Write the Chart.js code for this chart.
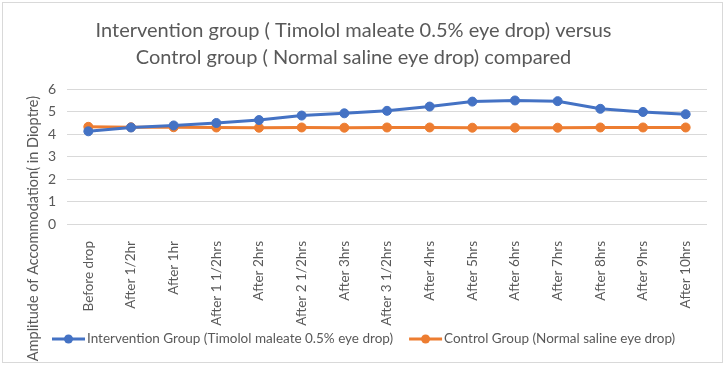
<!DOCTYPE html>
<html>
<head>
<meta charset="utf-8">
<script src="https://cdn.jsdelivr.net/npm/chart.js@4"></script>
<style>
  html, body { margin: 0; padding: 0; background: #fff; }
  #wrap { width: 726px; height: 366px; position: relative; }
</style>
</head>
<body>
<div id="wrap"><canvas id="myChart" width="726" height="366"></canvas></div>
<script>
const labels = ['Before drop', 'After 1/2hr', 'After 1hr', 'After 1 1/2hrs', 'After 2hrs', 'After 2 1/2hrs',
    'After 3hrs', 'After 3 1/2hrs', 'After 4hrs', 'After 5hrs', 'After 6hrs', 'After 7hrs', 'After 8hrs',
    'After 9hrs', 'After 10hrs'];
const intervention = [4.12, 4.29, 4.38, 4.49, 4.62, 4.82, 4.92, 5.03, 5.22, 5.44, 5.49, 5.46, 5.12, 4.98, 4.88];
const control = [4.32, 4.3, 4.3, 4.29, 4.28, 4.29, 4.28, 4.29, 4.29, 4.28, 4.28, 4.28, 4.29, 4.29, 4.29];
const yTicks = [0, 1, 2, 3, 4, 5, 6];
const titleLines = ['Intervention group ( Timolol maleate 0.5% eye drop) versus',
    'Control group ( Normal saline eye drop) compared'];
const yTitle = 'Amplitude of Accommodation( in Dioptre)';
const seriesNames = ['Intervention Group (Timolol maleate 0.5% eye drop)', 'Control Group (Normal saline eye drop)'];

const FONT = 'Lato, "Liberation Sans", sans-serif';
const GREY = '#595959';

// y title, legend and frame drawn by hand (Excel style)
const extras = {
    id: 'extras',
    afterDraw: (chart) => {
        const c = chart.ctx;
        c.save();
        c.fillStyle = GREY;
        c.font = '14.5px ' + FONT;
        c.translate(33, 96);
        c.rotate(-Math.PI / 2);
        c.textAlign = 'right';
        c.textBaseline = 'middle';
        c.fillText(yTitle, 0, 0);
        c.restore();

        c.save();
        c.font = '13.5px ' + FONT;
        c.textBaseline = 'middle';
        let x = 52;
        const y = 339;
        chart.data.datasets.forEach((ds) => {
            c.strokeStyle = ds.borderColor;
            c.lineWidth = 3;
            c.beginPath();
            c.moveTo(x, y);
            c.lineTo(x + 33, y);
            c.stroke();
            c.fillStyle = ds.borderColor;
            c.beginPath();
            c.arc(x + 16.5, y, 4.5, 0, Math.PI * 2);
            c.fill();
            c.fillStyle = GREY;
            c.fillText(ds.label, x + 35, y);
            x += 35 + c.measureText(ds.label).width + 16;
        });
        c.restore();

        // white mask outside the frame, then the frame
        c.save();
        c.fillStyle = '#fff';
        c.fillRect(0, 363, 726, 3);
        c.fillRect(0, 0, 2, 366);
        c.strokeStyle = '#d9d9d9';
        c.lineWidth = 1;
        c.strokeRect(2.5, 2.5, 720, 360);
        c.restore();
    },
};

const ctx = document.getElementById('myChart').getContext('2d');
const myChart = new Chart(ctx, {
    type: 'line',
    data: {
        labels: labels,
        datasets: [
            {
                label: seriesNames[0],
                data: intervention,
                borderColor: '#4472C4',
                backgroundColor: '#4472C4',
                borderWidth: 3,
                pointRadius: 4.5,
                pointBorderWidth: 1,
            },
            {
                label: seriesNames[1],
                data: control,
                borderColor: '#ED7D31',
                backgroundColor: '#ED7D31',
                borderWidth: 3,
                pointRadius: 4.5,
                pointBorderWidth: 1,
            },
        ],
    },
    options: {
        responsive: false,
        animation: false,
        layout: { padding: { left: 0, right: 19, top: 0, bottom: 28 } },
        plugins: {
            legend: { display: false },
            tooltip: { enabled: false },
            title: {
                display: true,
                text: titleLines,
                color: GREY,
                font: { family: FONT, size: 20, weight: 'normal', lineHeight: 1.35 },
                padding: { top: 17, bottom: 18 },
            },
        },
        scales: {
            x: {
                offset: true,
                afterFit: (s) => { s.height = 114; },
                grid: { display: false },
                border: { display: false },
                ticks: {
                    color: GREY,
                    font: { family: FONT, size: 13.5 },
                    minRotation: 90,
                    maxRotation: 90,
                    autoSkip: false,
                    padding: 9,
                },
            },
            y: {
                min: 0,
                max: 6,
                afterFit: (s) => { s.width = 67; },
                afterBuildTicks: (s) => { s.ticks = yTicks.map((v) => ({ value: v })); },
                grid: { color: '#d9d9d9', drawTicks: false },
                border: { display: false },
                ticks: {
                    color: GREY,
                    font: { family: FONT, size: 14 },
                    padding: 11,
                },
            },
        },
    },
    plugins: [extras],
});
</script>
</body>
</html>
